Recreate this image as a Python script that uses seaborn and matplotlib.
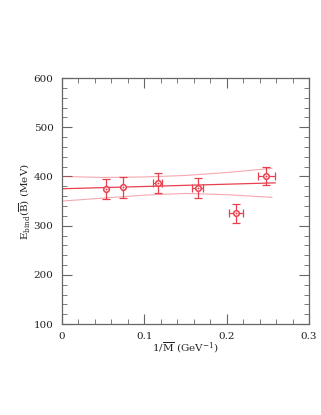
#!/usr/bin/env python3
"""Binding energy vs 1/M with linear fit band."""

import matplotlib
matplotlib.use("Agg")
import matplotlib.pyplot as plt
import pandas as pd
import seaborn as sns
from matplotlib.ticker import FuncFormatter, MultipleLocator

# data points
inv_m = [0.053, 0.074, 0.116, 0.165, 0.211, 0.248]
inv_m_err = [0.0, 0.0, 0.005, 0.0067, 0.0085, 0.010]
e_bind = [375, 378, 387, 377, 325, 401]
e_bind_err = [20, 21, 21, 20, 20, 19]

# fit line and error band
fit_x = [0.0, 0.259]
fit_y = [375, 387]
band_x = [0.0, 0.05, 0.1, 0.15, 0.2, 0.255]
band_hi = [400, 398, 399, 402, 408, 416.5]
band_lo = [350, 356, 362, 365.5, 363, 357.5]

RED = "#e8404f"

sns.set_theme(style="ticks")
plt.rcParams["font.family"] = ["DejaVu Serif"]
plt.rcParams["mathtext.fontset"] = "dejavuserif"

fig = plt.figure(figsize=(3.21, 4.15), dpi=100)
ax = fig.add_axes([0.193, 0.219, 0.77, 0.593])

band = pd.DataFrame({"x": band_x, "hi": band_hi, "lo": band_lo})
sns.lineplot(data=band, x="x", y="hi", ax=ax, color=RED, lw=0.8, alpha=0.45)
sns.lineplot(data=band, x="x", y="lo", ax=ax, color=RED, lw=0.8, alpha=0.45)
fit = pd.DataFrame({"x": fit_x, "y": fit_y})
sns.lineplot(data=fit, x="x", y="y", ax=ax, color=RED, lw=0.9)

ax.errorbar(inv_m, e_bind, yerr=e_bind_err, xerr=inv_m_err, fmt="none",
            ecolor=RED, elinewidth=0.9, capsize=3, capthick=0.9)
pts = pd.DataFrame({"x": inv_m, "y": e_bind})
sns.scatterplot(data=pts, x="x", y="y", ax=ax, marker="o", s=16,
                facecolor="white", edgecolor=RED, linewidth=1.1, zorder=5)
sns.scatterplot(data=pts, x="x", y="y", ax=ax, marker="o", s=2,
                color=RED, linewidth=0, zorder=6)

ax.set_xlim(0, 0.3)
ax.set_ylim(100, 600)
ax.xaxis.set_major_locator(MultipleLocator(0.1))
ax.xaxis.set_minor_locator(MultipleLocator(0.02))
ax.yaxis.set_major_locator(MultipleLocator(100))
ax.yaxis.set_minor_locator(MultipleLocator(20))
ax.xaxis.set_major_formatter(FuncFormatter(lambda v, _: "0" if abs(v) < 1e-9 else f"{v:.1f}"))
ax.tick_params(which="both", direction="in", top=True, right=True,
               color="#666666", labelsize=7.5, labelcolor="#222222")
ax.tick_params(which="major", length=7, width=0.8, pad=6)
ax.tick_params(which="minor", length=3.5, width=0.6)
for sp in ax.spines.values():
    sp.set_color("#666666")
    sp.set_linewidth(0.9)

ax.set_xlabel(r"1/$\overline{\rm M}$ (GeV$^{-1}$)", fontsize=7.5, labelpad=-1)
ax.set_ylabel(r"E$_{\rm bind}$($\overline{\rm B}$) (MeV)", fontsize=7.5, labelpad=1)

fig.savefig("out.png", dpi=100)
